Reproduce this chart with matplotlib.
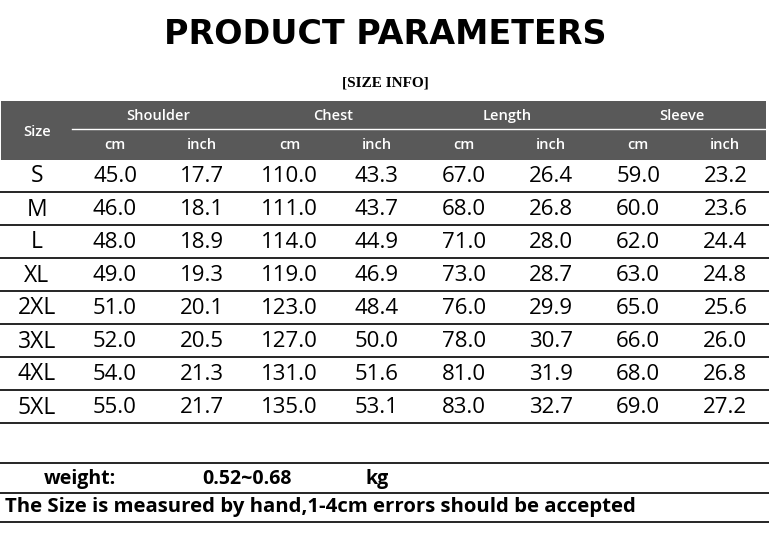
import matplotlib
matplotlib.use("Agg")
import matplotlib.pyplot as plt

# size table values
sizes = ["S", "M", "L", "XL", "2XL", "3XL", "4XL", "5XL"]
shoulder_cm = [45.0, 46.0, 48.0, 49.0, 51.0, 52.0, 54.0, 55.0]
shoulder_in = [17.7, 18.1, 18.9, 19.3, 20.1, 20.5, 21.3, 21.7]
chest_cm = [110.0, 111.0, 114.0, 119.0, 123.0, 127.0, 131.0, 135.0]
chest_in = [43.3, 43.7, 44.9, 46.9, 48.4, 50.0, 51.6, 53.1]
length_cm = [67.0, 68.0, 71.0, 73.0, 76.0, 78.0, 81.0, 83.0]
length_in = [26.4, 26.8, 28.0, 28.7, 29.9, 30.7, 31.9, 32.7]
sleeve_cm = [59.0, 60.0, 62.0, 63.0, 65.0, 66.0, 68.0, 69.0]
sleeve_in = [23.2, 23.6, 24.4, 24.8, 25.6, 26.0, 26.8, 27.2]

groups = ["Shoulder", "Chest", "Length", "Sleeve"]
units = ["cm", "inch"]
columns = [shoulder_cm, shoulder_in, chest_cm, chest_in,
           length_cm, length_in, sleeve_cm, sleeve_in]

title = "PRODUCT PARAMETERS"
subtitle = "[SIZE INFO]"
weight_label, weight_range, weight_unit = "weight:", "0.52~0.68", "kg"
note = "The Size is measured by hand,1-4cm errors should be accepted"

W, H = 769, 559
fig = plt.figure(figsize=(W / 100, H / 100), dpi=100)
ax = fig.add_axes([0, 0, 1, 1])
ax.set_xlim(0, W)
ax.set_ylim(H, 0)
ax.axis("off")

sans = ["Open Sans", "DejaVu Sans"]
gray = "#595959"

ax.text(385, 35, title, ha="center", va="center", fontsize=24,
        fontweight="bold", family="DejaVu Sans")
ax.text(385, 83, subtitle, ha="center", va="center", fontsize=11,
        fontweight="bold", family=["Liberation Serif", "DejaVu Serif"])

# header band
band_top, band_mid, band_bot = 101, 129, 160
ax.add_patch(plt.Rectangle((1, band_top), 765, band_bot - band_top,
                           color=gray, lw=0))
ax.plot([72, 766], [band_mid, band_mid], color="white", lw=1)

size_x = 37
col_x = [115 + 87.2 * i for i in range(8)]
ax.text(size_x, (band_top + band_bot) / 2 + 1, "Size", color="white",
        ha="center", va="center", fontsize=10.5, fontweight="semibold", family=sans)
for g, name in enumerate(groups):
    cx = (col_x[2 * g] + col_x[2 * g + 1]) / 2
    ax.text(cx, 116, name, color="white", ha="center", va="center",
            fontsize=10.5, fontweight="semibold", family=sans)
    for u, unit in enumerate(units):
        ax.text(col_x[2 * g + u], 145, unit, color="white", ha="center",
                va="center", fontsize=10.5, fontweight="semibold", family=sans)

# data rows
row_top = band_bot
row_h = 33
for r, s in enumerate(sizes):
    y0 = row_top + r * row_h
    yc = y0 + row_h / 2
    ax.text(size_x, yc, s, ha="center", va="center", fontsize=16.5, family=sans)
    for c, vals in enumerate(columns):
        ax.text(col_x[c], yc, f"{vals[r]:.1f}", ha="center", va="center",
                fontsize=16, family=sans)
    ax.plot([0, W], [y0 + row_h - 1, y0 + row_h - 1], color="black", lw=1.2)

# footer
ax.plot([0, W], [463, 463], color="black", lw=1.2)
ax.text(80, 479, weight_label, ha="center", va="center", fontsize=14,
        fontweight="bold", family=sans)
ax.text(247, 479, weight_range, ha="center", va="center", fontsize=14,
        fontweight="bold", family=sans)
ax.text(377, 479, weight_unit, ha="center", va="center", fontsize=14,
        fontweight="bold", family=sans)
ax.plot([0, W], [493, 493], color="black", lw=1.2)
ax.text(5, 507, note, ha="left", va="center", fontsize=14.7,
        fontweight="bold", family=sans)
ax.plot([0, W], [522, 522], color="black", lw=1.2)

fig.savefig("out.png", dpi=100)
